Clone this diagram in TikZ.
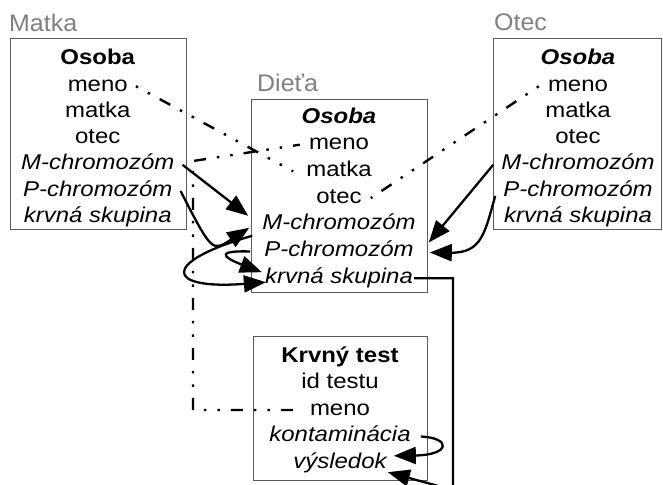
\documentclass[tikz,border=0pt]{standalone}
\usepackage{fontspec}
\setmainfont[FakeStretch=1.12]{Liberation Sans}
\newfontfamily\labelfont[FakeStretch=1.04]{Liberation Sans}
\usetikzlibrary{arrows.meta}
\definecolor{boxgray}{HTML}{5A5A5A}
\definecolor{labelgray}{HTML}{7F7F7F}

\begin{document}
\begin{tikzpicture}[x=1pt,y=-1pt,
  box/.style={draw=boxgray, line width=1.2pt, anchor=north west, inner sep=0pt},
  row/.style={anchor=base, inner xsep=5pt, inner ysep=0pt, text height=14pt,
    text depth=4pt, font=\fontsize{21.4}{24}\selectfont},
  irow/.style={row, font=\fontsize{21.4}{24}\selectfont\itshape},
  btitle/.style={row, font=\fontsize{21.4}{24}\selectfont\bfseries},
  bititle/.style={row, font=\fontsize{21.4}{24}\selectfont\bfseries\itshape},
  lbl/.style={anchor=base west, inner sep=0pt, text=labelgray,
    font=\labelfont\fontsize{24}{28}\selectfont},
  fk/.style={line width=2.4pt, dash pattern=on 2.5pt off 11pt on 2.5pt off 11pt on 12pt off 11pt},
  fkdash/.style={line width=2.4pt, dash pattern=on 12pt off 11pt on 2.5pt off 11pt on 2.5pt off 11pt},
  arr/.style={line width=2.3pt, -{Triangle[length=22pt,width=17pt]}}
]
\useasboundingbox (0,0) rectangle (663,484);
\clip (0,0) rectangle (663,484);

% --- Matka ---
\node[lbl] (matka-lbl) at (9,32) {Matka};
\node[box, minimum width=176.5pt, minimum height=191pt] (matka) at (9.5,38) {};
\node[btitle] (m-osoba) at (97.75,65)   {Osoba};
\node[row]    (m-meno)  at (97.75,91.2) {meno};
\node[row]    (m-matka) at (97.75,117.4) {matka};
\node[row]    (m-otec)  at (97.75,143.6) {otec};
\node[irow]   (m-mchr)  at (97.75,169.8) {M-chromozóm};
\node[irow]   (m-pchr)  at (97.75,196)   {P-chromozóm};
\node[irow]   (m-krv)   at (97.75,222.2) {krvná skupina};

% --- Otec ---
\node[lbl] (otec-lbl) at (494,31) {Otec};
\node[box, minimum width=168pt, minimum height=191pt] (otec) at (493,38) {};
\node[bititle] (o-osoba) at (578,65)   {Osoba};
\node[row]     (o-meno)  at (578,91.2) {meno};
\node[row]     (o-matka) at (578,117.4) {matka};
\node[row]     (o-otec)  at (578,143.6) {otec};
\node[irow]    (o-mchr)  at (578,169.8) {M-chromozóm};
\node[irow]    (o-pchr)  at (578,196)   {P-chromozóm};
\node[irow]    (o-krv)   at (578,222.2) {krvná skupina};

% --- Dieťa ---
\node[lbl] (dieta-lbl) at (257,92) {Dieťa};
\node[box, minimum width=176pt, minimum height=193pt] (dieta) at (251,99) {};
\node[bititle] (d-osoba) at (339,123)   {Osoba};
\node[row]     (d-meno)  at (339,149.7) {meno};
\node[row]     (d-matka) at (339,176.4) {matka};
\node[row]     (d-otec)  at (339,203.1) {otec};
\node[irow]    (d-mchr)  at (339,229.8) {M-chromozóm};
\node[irow]    (d-pchr)  at (339,256.5) {P-chromozóm};
\node[irow]    (d-krv)   at (339,283.2) {krvná skupina};

% --- Krvný test ---
\node[box, minimum width=174pt, minimum height=144pt] (test) at (253,336) {};
\node[btitle] (k-title) at (340,362)   {Krvný test};
\node[row]    (k-id)    at (340,388.5) {id testu};
\node[row]    (k-meno)  at (340,415)   {meno};
\node[irow]   (k-kont)  at (340,441.5) {kontaminácia};
\node[irow]   (k-vys)   at (340,468)   {výsledok};

% --- references between attributes ---
\draw[fk] ([xshift=3pt]m-meno.east) -- ([xshift=-8pt]d-matka.west);
\draw[fk] ([xshift=-4pt]o-meno.west) -- ([xshift=4pt]d-otec.east);
\coordinate (kbend) at (193,161);
\draw[fkdash] ([xshift=-12pt]k-meno.west) -| (kbend) -- ([xshift=-4pt]d-meno.west);

% --- inheritance of chromosomes and blood group ---
\draw[arr] ([xshift=3pt]m-mchr.east) -- ([xshift=-9pt,yshift=9pt]d-mchr.west);
\draw[arr] ([xshift=3pt]m-pchr.east) .. controls (212,252) .. ([xshift=-8pt,yshift=-3pt]d-mchr.west);
\draw[arr] ([xshift=-3pt]o-mchr.west) -- ([xshift=10pt,yshift=9pt]d-pchr.east);
\draw[arr] ([xshift=-3pt,yshift=-5pt]o-pchr.west) .. controls (485,232) and (482,253) .. ([xshift=11pt,yshift=-1pt]d-pchr.east);
\draw[arr] ([xshift=-5pt,yshift=-11pt]d-mchr.west) .. controls (160,262) and (165,290) .. ([xshift=6pt,yshift=-4pt]d-krv.west);
\draw[arr] ([xshift=-9pt]d-pchr.west) .. controls (205,250) and (235,262) .. ([xshift=2pt,yshift=6pt]d-krv.west);

% --- blood test links ---
\coordinate (turn) at (453,490);
\draw[arr] ([xshift=-4pt]d-krv.east) -| (turn) -- ([xshift=-4pt]k-vys.south east);
\draw[arr] ([xshift=5pt]k-kont.east) .. controls (452,438) and (450,455) .. ([xshift=2pt,yshift=-2pt]k-vys.north east);
\end{tikzpicture}
\end{document}
